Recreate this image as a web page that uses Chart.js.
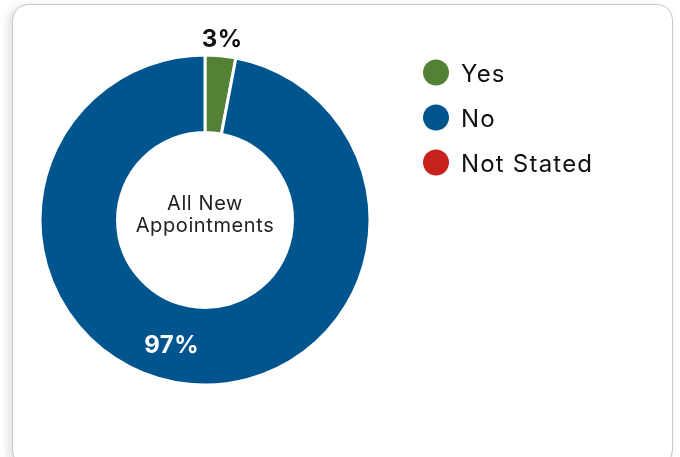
<!DOCTYPE html>
<html>
<head>
<meta charset="utf-8">
<script src="https://cdn.jsdelivr.net/npm/chart.js@4.4.1/dist/chart.umd.min.js"></script>
<style>
  html, body { margin: 0; padding: 0; background: #fff; overflow: hidden; }
  .card {
    position: absolute; left: 12px; top: 4px; width: 659px; height: 460px;
    border: 1px solid #c8c8c8; border-radius: 16px; background: #fff;
    box-shadow: -4px 2px 10px rgba(0,0,0,0.12);
  }
  #wrap { position: absolute; left: 0; top: 0; width: 680px; height: 457px; }
</style>
</head>
<body>
<div class="card"></div>
<div id="wrap"><canvas id="donut"></canvas></div>
<script>
const categories = ['Yes', 'No', 'Not Stated'];
const values = [3, 97, 0];
const colors = ['#538135', '#00558f', '#c9211e'];
const centerText = ['All New', 'Appointments'];
const fontFamily = 'Inter, "Open Sans", sans-serif';

// where along the slice each % label sits, and how far out
const labelSpots = [
  { t: 0.5, r: 1.10, color: '#111111' },
  { t: 0.527, r: 0.79, color: '#ffffff' },
  null
];

const labelsPlugin = {
  id: 'pctLabels',
  afterDatasetsDraw(chart) {
    const c = chart.ctx;
    const meta = chart.getDatasetMeta(0);
    const total = values.reduce((a, b) => a + b, 0);
    c.save();
    c.textAlign = 'center';
    c.textBaseline = 'middle';
    c.font = 'bold 24px ' + fontFamily;
    c.letterSpacing = '0.5px';
    meta.data.forEach((arc, i) => {
      const spot = labelSpots[i];
      if (!spot || !values[i]) return;
      const p = arc.getProps(['x', 'y', 'startAngle', 'endAngle', 'outerRadius'], true);
      const a = p.startAngle + (p.endAngle - p.startAngle) * spot.t;
      const r = p.outerRadius * spot.r;
      c.fillStyle = spot.color;
      c.fillText(Math.round(values[i] / total * 100) + '%', p.x + Math.cos(a) * r, p.y + Math.sin(a) * r);
    });

    // centre text
    const a0 = meta.data[0];
    c.textBaseline = 'alphabetic';
    c.fillStyle = '#222';
    c.font = '20px ' + fontFamily;
    c.letterSpacing = '0.6px';
    c.fillText(centerText[0], a0.x, a0.y - 10);
    c.fillText(centerText[1], a0.x, a0.y + 12);

    // legend on the right
    const lx = 436, ly = 72.5, step = 45;
    c.letterSpacing = '1.2px';
    categories.forEach((name, i) => {
      c.beginPath();
      c.fillStyle = colors[i];
      c.arc(lx, ly + i * step, 13, 0, Math.PI * 2);
      c.fill();
      c.fillStyle = '#111';
      c.textAlign = 'left';
      c.font = '24px ' + fontFamily;
      c.fillText(name, lx + 25, ly + i * step + 9);
    });
    c.restore();
  }
};

new Chart(document.getElementById('donut'), {
  type: 'doughnut',
  data: {
    labels: categories,
    datasets: [{
      data: values,
      backgroundColor: colors,
      borderColor: '#ffffff',
      borderWidth: 3,
      hoverOffset: 0
    }]
  },
  options: {
    responsive: true,
    maintainAspectRatio: false,
    animation: false,
    cutout: '53%',
    layout: { padding: { left: 38.5, top: 53.5, right: 308.5, bottom: 70.5 } },
    plugins: { legend: { display: false }, tooltip: { enabled: false } }
  },
  plugins: [labelsPlugin]
});
</script>
</body>
</html>
